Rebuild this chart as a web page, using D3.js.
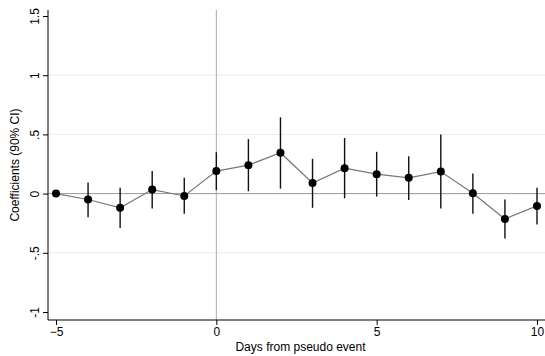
<!DOCTYPE html>
<html>
<head>
<meta charset="utf-8">
<script src="https://cdn.jsdelivr.net/npm/d3@7"></script>
<style>
  body { margin: 0; background: #fff; }
  text { font-family: "Liberation Sans", Arial, sans-serif; fill: #000; }
</style>
</head>
<body>
<div id="chart"></div>
<script>
// Event-study coefficients with 90% CI
const days = [-5, -4, -3, -2, -1, 0, 1, 2, 3, 4, 5, 6, 7, 8, 9, 10];
const coef = [0, -0.05, -0.12, 0.034, -0.02, 0.19, 0.24, 0.345, 0.09, 0.215, 0.164, 0.133, 0.186, 0.003, -0.214, -0.104];
const ciLow = [0, -0.2, -0.29, -0.125, -0.17, 0.03, 0.02, 0.042, -0.12, -0.04, -0.025, -0.053, -0.125, -0.17, -0.38, -0.26];
const ciHigh = [0, 0.093, 0.05, 0.19, 0.133, 0.35, 0.46, 0.644, 0.294, 0.47, 0.353, 0.316, 0.5, 0.17, -0.05, 0.05];
const xTicks = [-5, 0, 5, 10];
const yTicks = [-1, -0.5, 0, 0.5, 1, 1.5];
const yTickLabels = ['-1', '-.5', '0', '.5', '1', '1.5'];
const gridVals = [-0.5, 0.5, 1];

const width = 545, height = 356;
const svg = d3.select('#chart').append('svg')
  .attr('width', width)
  .attr('height', height);

const x = d3.scaleLinear().domain([-5, 10]).range([56, 537]);
const y = d3.scaleLinear().domain([-1, 1.5]).range([312, 16]);

const plotL = 48, plotT = 10, plotB = 320, plotR = 545;

// light grid lines
svg.selectAll('.grid')
  .data(gridVals)
  .enter().append('line')
  .attr('x1', plotL).attr('x2', plotR)
  .attr('y1', d => y(d)).attr('y2', d => y(d))
  .attr('stroke', '#e6eff1')
  .attr('stroke-width', 1);

// zero reference line
svg.append('line')
  .attr('x1', plotL).attr('x2', plotR)
  .attr('y1', y(0)).attr('y2', y(0))
  .attr('stroke', '#999')
  .attr('stroke-width', 1);

// event line at day 0
svg.append('line')
  .attr('x1', x(0)).attr('x2', x(0))
  .attr('y1', plotT).attr('y2', plotB)
  .attr('stroke', '#aaa')
  .attr('stroke-width', 1);

// y axis
const yAxis = d3.axisLeft(y)
  .tickValues(yTicks)
  .tickSize(5)
  .tickFormat((d, i) => yTickLabels[i]);
const gy = svg.append('g')
  .attr('transform', `translate(${plotL},0)`)
  .call(yAxis);
gy.select('.domain').attr('d', `M0,${plotT}V${plotB}`).attr('stroke', '#000');
gy.selectAll('.tick line').attr('stroke', '#000');
gy.selectAll('.tick text')
  .attr('font-size', 12)
  .attr('x', 0).attr('y', 0).attr('dy', 0)
  .attr('text-anchor', 'middle')
  .attr('transform', 'translate(-9,0) rotate(-90)')
  .style('font-family', '"Liberation Sans", Arial, sans-serif');

// x axis
const xAxis = d3.axisBottom(x)
  .tickValues(xTicks)
  .tickSize(5)
  .tickFormat(d3.format('d'));
const gx = svg.append('g')
  .attr('transform', `translate(0,${plotB})`)
  .call(xAxis);
gx.select('.domain').attr('d', `M${plotL},0H${plotR}`).attr('stroke', '#000');
gx.selectAll('.tick line').attr('stroke', '#000');
gx.selectAll('.tick text')
  .attr('font-size', 12)
  .attr('y', 7)
  .style('font-family', '"Liberation Sans", Arial, sans-serif');

// axis titles
svg.append('text')
  .attr('x', (plotL + plotR) / 2 + 4)
  .attr('y', 351)
  .attr('text-anchor', 'middle')
  .attr('font-size', 12)
  .text('Days from pseudo event');

svg.append('text')
  .attr('transform', `translate(19,${(plotT + plotB) / 2}) rotate(-90)`)
  .attr('text-anchor', 'middle')
  .attr('font-size', 12)
  .text('Coefficients (90% CI)');

const data = days.map((d, i) => ({ day: d, b: coef[i], lo: ciLow[i], hi: ciHigh[i] }));

// CI bars
svg.selectAll('.ci')
  .data(data)
  .enter().append('line')
  .attr('x1', d => x(d.day)).attr('x2', d => x(d.day))
  .attr('y1', d => y(d.lo)).attr('y2', d => y(d.hi))
  .attr('stroke', '#111')
  .attr('stroke-width', 1.4);

// connecting line
const line = d3.line().x(d => x(d.day)).y(d => y(d.b));
svg.append('path')
  .datum(data)
  .attr('d', line)
  .attr('fill', 'none')
  .attr('stroke', '#777')
  .attr('stroke-width', 1.2);

// points
svg.selectAll('.pt')
  .data(data)
  .enter().append('circle')
  .attr('cx', d => x(d.day))
  .attr('cy', d => y(d.b))
  .attr('r', 4)
  .attr('fill', '#000');
</script>
</body>
</html>
